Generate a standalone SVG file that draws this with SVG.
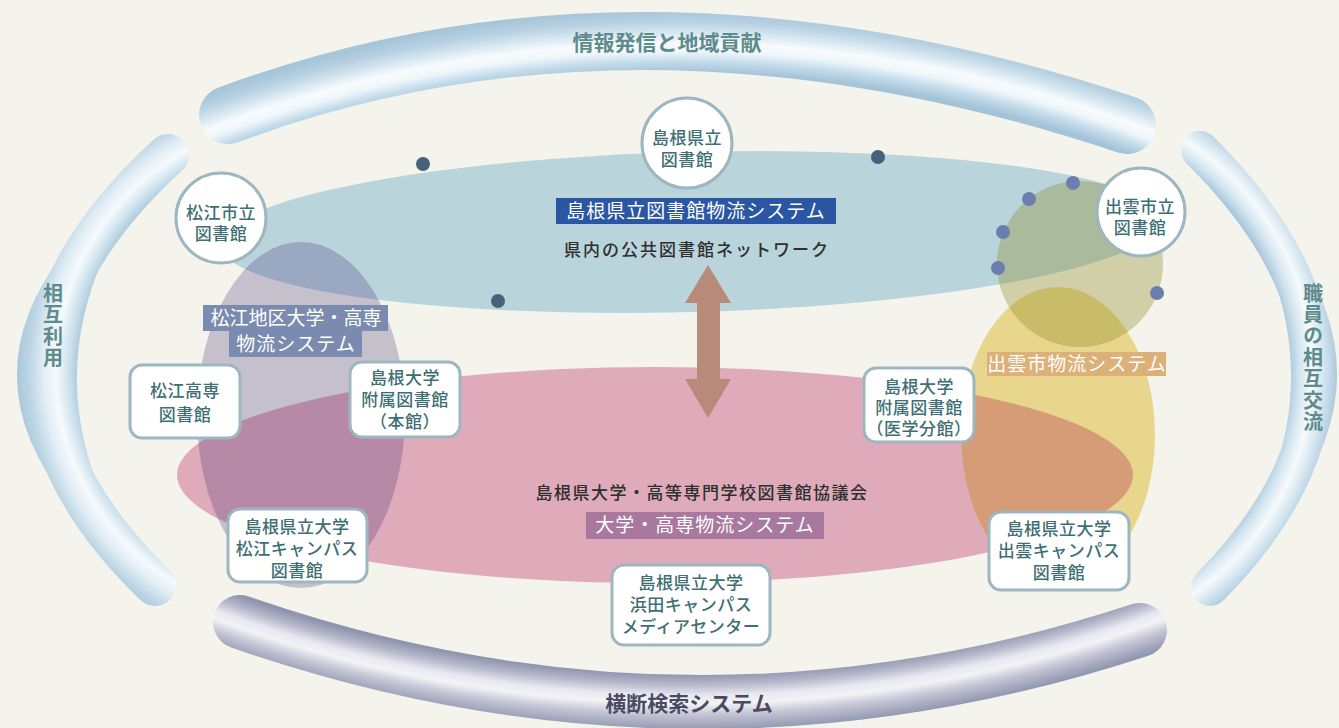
<svg xmlns="http://www.w3.org/2000/svg" width="1339" height="728" viewBox="0 0 1339 728">
<defs>
<style>
.nd{fill:#ffffff;stroke:#9db6bf;stroke-width:3}
.nt{font-family:"Liberation Serif","Noto Sans CJK JP",serif;font-size:17px;fill:#3e6f73;text-anchor:middle;font-weight:500;letter-spacing:0.5px}
.bt{font-family:"Noto Sans CJK JP","Noto Sans",sans-serif;font-size:21px;font-weight:700;fill:#5e8b8c;text-anchor:middle}
.vt{font-family:"Noto Sans CJK JP","Noto Sans",sans-serif;font-size:20px;font-weight:700;fill:#5e8b8c;text-anchor:middle;writing-mode:vertical-rl;letter-spacing:1.4px}
.lw{font-family:"Noto Sans CJK JP","Noto Sans",sans-serif;font-size:19px;fill:#ffffff;text-anchor:middle;letter-spacing:1px}
.ld{font-family:"Noto Sans CJK JP","Noto Sans",sans-serif;font-size:17px;fill:#2e2e2e;text-anchor:middle;font-weight:500;letter-spacing:2px}
.dd{fill:#46627a}
.db{fill:#6a7fae}
</style>
<radialGradient id="gTop" gradientUnits="userSpaceOnUse" cx="678" cy="1362" r="1400">
<stop offset="0.921" stop-color="#a3c3d8"/>
<stop offset="0.929" stop-color="#c4dcea"/>
<stop offset="0.936" stop-color="#eef6fa"/>
<stop offset="0.942" stop-color="#f8fbfd"/>
<stop offset="0.950" stop-color="#d4e6f0"/>
<stop offset="0.958" stop-color="#b6d0e1"/>
<stop offset="0.966" stop-color="#a6c5d9"/>
</radialGradient>
<radialGradient id="gLeft" gradientUnits="userSpaceOnUse" cx="305" cy="370" r="300">
<stop offset="0.75" stop-color="#a7c5d9"/>
<stop offset="0.79" stop-color="#cfe3ee"/>
<stop offset="0.83" stop-color="#f6fafc"/>
<stop offset="0.87" stop-color="#e2eef5"/>
<stop offset="0.92" stop-color="#bcd5e4"/>
<stop offset="0.965" stop-color="#a7c5d9"/>
</radialGradient>
<radialGradient id="gRight" gradientUnits="userSpaceOnUse" cx="1042" cy="370" r="300">
<stop offset="0.82" stop-color="#a7c5d9"/>
<stop offset="0.86" stop-color="#d4e6f0"/>
<stop offset="0.90" stop-color="#f6fafc"/>
<stop offset="0.945" stop-color="#cfe2ed"/>
<stop offset="0.99" stop-color="#a7c5d9"/>
</radialGradient>
<radialGradient id="gBot" gradientUnits="userSpaceOnUse" cx="690" cy="-668" r="1420">
<stop offset="0.945" stop-color="#8f95ae"/>
<stop offset="0.953" stop-color="#b9bbcd"/>
<stop offset="0.960" stop-color="#e9e8f0"/>
<stop offset="0.966" stop-color="#f3f2f6"/>
<stop offset="0.974" stop-color="#c2c3d3"/>
<stop offset="0.985" stop-color="#9298b1"/>
</radialGradient>
<clipPath id="cPink"><ellipse cx="655" cy="475" rx="478" ry="108"/></clipPath>
</defs>
<rect x="0" y="0" width="1339" height="728" fill="#f4f3ec"/>

<g id="bands">
<path d="M228,115 Q638.5,-38 1127,125" fill="none" stroke="url(#gTop)" stroke-width="58" stroke-linecap="round"/>
<path d="M240,622 Q690,778 1140,630" fill="none" stroke="url(#gBot)" stroke-width="54" stroke-linecap="round"/>
<path d="M168,155 Q-67.5,370 155,585" fill="none" stroke="url(#gLeft)" stroke-width="42" stroke-linecap="round"/>
<path d="M168,155 Q-127.5,370 155,585 Q-7.5,370 168,155 Z" fill="url(#gLeft)"/>
<path d="M1200,150 Q1423,371.5 1210,587" fill="none" stroke="url(#gRight)" stroke-width="38" stroke-linecap="round"/>
<path d="M1200,150 Q1469,371.5 1210,587 Q1377,371.5 1200,150 Z" fill="url(#gRight)"/>
<text class="bt" x="667" y="50">情報発信と地域貢献</text>
<text class="bt" x="689" y="711" style="fill:#4b4a63">横断検索システム</text>
<text class="vt" x="53" y="326">相互利用</text>
<text class="vt" x="1313" y="358">職員の相互交流</text>
</g>

<g id="areas">
<ellipse id="area-prefnet" cx="690" cy="232" rx="470" ry="80" fill="#bad4dc" transform="rotate(-1.5 690 232)"/>
<ellipse id="area-univ" cx="655" cy="475" rx="478" ry="108" fill="#dfabba"/>
<ellipse id="area-izumo" cx="1058" cy="435" rx="97" ry="148" fill="#e8d68c"/>
<ellipse cx="1058" cy="435" rx="97" ry="148" fill="#d69c77" clip-path="url(#cPink)"/>
<circle id="area-izumo-city" cx="1080" cy="264" r="83" fill="rgb(140,140,40)" fill-opacity="0.35"/>
<ellipse id="area-matsue" cx="301" cy="415" rx="104" ry="173" fill="rgb(60,39,112)" fill-opacity="0.25"/>
</g>

<g id="dots">
<circle class="dd" cx="423" cy="164" r="7"/>
<circle class="dd" cx="878" cy="157" r="7"/>
<circle class="dd" cx="498" cy="301" r="7"/>
<circle class="db" cx="1073" cy="183" r="7"/>
<circle class="db" cx="1029" cy="199" r="7"/>
<circle class="db" cx="1003" cy="232" r="7"/>
<circle class="db" cx="998" cy="268" r="7"/>
<circle class="db" cx="1157" cy="293" r="7"/>
</g>

<g id="connectors">
<polygon points="708,265 731,303 720,303 720,379 731,379 708,418 685,379 697,379 697,303 685,303" fill="#b88a7a"/>
</g>

<g id="labels">
<rect x="556" y="198" width="280" height="26" fill="#2a56a3"/>
<text class="lw" x="696" y="218">島根県立図書館物流システム</text>
<text class="ld" x="697" y="256">県内の公共図書館ネットワーク</text>
<rect x="203" y="305" width="185" height="26" fill="#7b8bb0"/>
<rect x="229" y="330" width="133" height="27" fill="#7b8bb0"/>
<text class="lw" x="296" y="325" style="letter-spacing:0px">松江地区大学・高専</text>
<text class="lw" x="296" y="351">物流システム</text>
<rect x="987" y="352" width="179" height="24" fill="#dbb079"/>
<text class="lw" x="1077" y="371">出雲市物流システム</text>
<text class="ld" x="702" y="499" style="letter-spacing:1.5px">島根県大学・高等専門学校図書館協議会</text>
<rect x="586" y="512" width="238" height="27" fill="#a8789e"/>
<text class="lw" x="705" y="532">大学・高専物流システム</text>
</g>

<g id="node-pref-lib">
<circle class="nd" cx="687" cy="143" r="45"/>
<text class="nt" x="687" y="144">島根県立</text>
<text class="nt" x="687" y="166">図書館</text>
</g>
<g id="node-matsue-city-lib">
<circle class="nd" cx="221" cy="218" r="45"/>
<text class="nt" x="221" y="219">松江市立</text>
<text class="nt" x="221" y="240">図書館</text>
</g>
<g id="node-izumo-city-lib">
<circle class="nd" cx="1141" cy="212" r="44"/>
<text class="nt" x="1140" y="213">出雲市立</text>
<text class="nt" x="1140" y="234">図書館</text>
</g>
<g id="node-matsue-kosen">
<rect class="nd" x="130" y="365" width="110" height="73" rx="12"/>
<text class="nt" x="185" y="397">松江高専</text>
<text class="nt" x="185" y="421">図書館</text>
</g>
<g id="node-shimane-univ-main">
<rect class="nd" x="350" y="362" width="110" height="75" rx="12"/>
<text class="nt" x="405" y="384">島根大学</text>
<text class="nt" x="405" y="406">附属図書館</text>
<text class="nt" x="405" y="428">（本館）</text>
</g>
<g id="node-shimane-univ-med">
<rect class="nd" x="864" y="368" width="110" height="74" rx="12"/>
<text class="nt" x="919" y="393">島根大学</text>
<text class="nt" x="919" y="414">附属図書館</text>
<text class="nt" x="919" y="435">（医学分館）</text>
</g>
<g id="node-pref-univ-matsue">
<rect class="nd" x="228" y="509" width="139" height="73" rx="12"/>
<text class="nt" x="297" y="533">島根県立大学</text>
<text class="nt" x="297" y="555">松江キャンパス</text>
<text class="nt" x="297" y="577">図書館</text>
</g>
<g id="node-pref-univ-hamada">
<rect class="nd" x="612" y="565" width="158" height="80" rx="12"/>
<text class="nt" x="691" y="589">島根県立大学</text>
<text class="nt" x="691" y="611">浜田キャンパス</text>
<text class="nt" x="691" y="633">メディアセンター</text>
</g>
<g id="node-pref-univ-izumo">
<rect class="nd" x="989" y="512" width="140" height="78" rx="12"/>
<text class="nt" x="1059" y="535">島根県立大学</text>
<text class="nt" x="1059" y="557">出雲キャンパス</text>
<text class="nt" x="1059" y="579">図書館</text>
</g>
</svg>
